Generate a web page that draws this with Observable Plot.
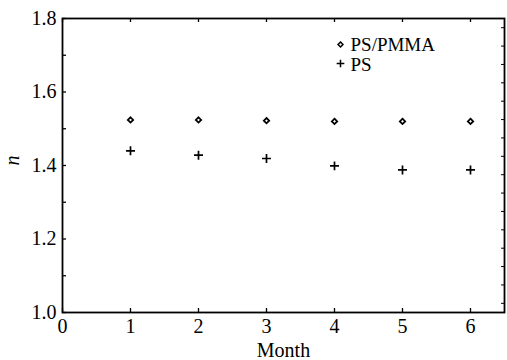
<!DOCTYPE html>
<html>
<head>
<meta charset="utf-8">
<script src="https://cdn.jsdelivr.net/npm/d3@7"></script>
<script src="https://cdn.jsdelivr.net/npm/@observablehq/plot@0.6"></script>
<style>
  html, body { margin: 0; padding: 0; background: #fff; }
  svg { display: block; }
</style>
</head>
<body>
<div id="chart"></div>
<script>
const months = [1, 2, 3, 4, 5, 6];
const psPmma = [1.524, 1.524, 1.522, 1.520, 1.520, 1.520];
const ps = [1.440, 1.428, 1.419, 1.399, 1.388, 1.388];
const xTicks = [0, 1, 2, 3, 4, 5, 6];
const yTicks = [1.0, 1.2, 1.4, 1.6, 1.8];
const yMinor = [1.1, 1.3, 1.5, 1.7];
const rightTicks = d3.range(1.025, 1.8, 0.05);
const seriesNames = ["PS/PMMA", "PS"];

const d1 = months.map((m, i) => ({m, n: psPmma[i]}));
const d2 = months.map((m, i) => ({m, n: ps[i]}));

const font = "'Times New Roman', 'Liberation Serif', Tinos, 'DejaVu Serif', serif";
const yk = 0.8 / 294; // data units per pixel (y)
const xk = 6.5 / 442; // data units per pixel (x)

const chart = Plot.plot({
  width: 507,
  height: 360,
  marginLeft: 62,
  marginRight: 3,
  marginTop: 18,
  marginBottom: 48,
  style: {fontFamily: font, fontSize: "20px", color: "#000", background: "#fff"},
  x: {type: "linear", domain: [0, 6.5]},
  y: {type: "linear", domain: [1.0, 1.8]},
  marks: [
    Plot.axisX(xTicks, {tickSize: 0, tickPadding: 6, fontSize: 20, label: null}),
    Plot.axisY(yTicks, {tickSize: 0, tickPadding: 6, fontSize: 20, label: null, tickFormat: d3.format(".1f")}),
    Plot.text(["Month"], {frameAnchor: "bottom", dy: 38, lineAnchor: "middle", fontSize: 20, text: d => d}),
    Plot.text(["n"], {frameAnchor: "left", dx: -50, dy: 0, lineAnchor: "middle", fontSize: 20, fontStyle: "italic", rotate: -90, text: d => d}),
    // inward ticks
    Plot.ruleX(xTicks, {x: d => d, y1: 1.0, y2: 1.0 + 4 * yk, stroke: "#000", strokeWidth: 1.3}),
    Plot.ruleX(xTicks, {x: d => d, y1: 1.8, y2: 1.8 - 4 * yk, stroke: "#000", strokeWidth: 1.3}),
    Plot.ruleY(yTicks.concat(yMinor), {y: d => d, x1: 0, x2: 4 * xk, stroke: "#000", strokeWidth: 1.3}),
    Plot.ruleY(rightTicks, {y: d => d, x1: 6.5, x2: 6.5 - 3 * xk, stroke: "#000", strokeWidth: 1}),
    Plot.frame({stroke: "#000", strokeWidth: 1.8}),
    // data
    Plot.dot(d1, {x: "m", y: "n", symbol: "diamond2", r: 2.4, stroke: "#000", strokeWidth: 1.8, fill: "#fff"}),
    Plot.dot(d2, {x: "m", y: "n", symbol: "plus", r: 3, stroke: "#000", strokeWidth: 1.7}),
    // legend
    Plot.dot([seriesNames[0]], {frameAnchor: "top-right", dx: -164, dy: 26, symbol: "diamond2", r: 2.2, stroke: "#000", strokeWidth: 1.5, fill: "#fff"}),
    Plot.dot([seriesNames[1]], {frameAnchor: "top-right", dx: -164, dy: 45, symbol: "plus", r: 2.6, stroke: "#000", strokeWidth: 1.5}),
    Plot.text([seriesNames[0]], {frameAnchor: "top-right", dx: -154, dy: 26, textAnchor: "start", lineAnchor: "middle", fontSize: 19, text: d => d}),
    Plot.text([seriesNames[1]], {frameAnchor: "top-right", dx: -154, dy: 46, textAnchor: "start", lineAnchor: "middle", fontSize: 19, text: d => d})
  ]
});
d3.select(chart).selectAll("text").attr("font-family", font).style("font-family", font);
document.getElementById("chart").appendChild(chart);
</script>
</body>
</html>
